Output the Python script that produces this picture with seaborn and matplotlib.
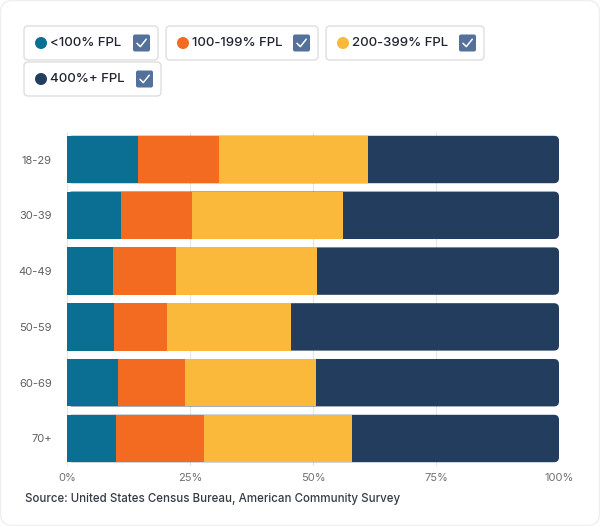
import matplotlib
matplotlib.use("Agg")
import matplotlib.pyplot as plt
from matplotlib.patches import FancyBboxPatch, Circle
import numpy as np
import pandas as pd
import seaborn as sns

# ---- data ----
age_groups = ["18-29", "30-39", "40-49", "50-59", "60-69", "70+"]
series_names = ["<100% FPL", "100-199% FPL", "200-399% FPL", "400%+ FPL"]
below_100 = [14.5, 10.9, 9.3, 9.5, 10.4, 10.0]
fpl_100_199 = [16.4, 14.6, 12.9, 10.9, 13.5, 17.8]
fpl_200_399 = [30.3, 30.6, 28.7, 25.2, 26.8, 30.2]
fpl_400_plus = [38.8, 43.9, 49.1, 54.4, 49.3, 42.0]
x_ticks = [0, 25, 50, 75, 100]
x_tick_labels = ["0%", "25%", "50%", "75%", "100%"]
source_text = "Source: United States Census Bureau, American Community Survey"

colors = ["#0A6F93", "#F26B21", "#FBB93B", "#233D5F"]

series = [below_100, fpl_100_199, fpl_200_399, fpl_400_plus]
cum = np.cumsum(np.array(series), axis=0)  # cumulative totals

sns.set_theme(style="white")
plt.rcParams["font.family"] = ["Inter", "DejaVu Sans"]

W, H = 600, 526
fig = plt.figure(figsize=(W / 100, H / 100), dpi=100)
fig.patch.set_facecolor("white")

# figure-pixel overlay for card, legend, source
ov = fig.add_axes([0, 0, 1, 1], zorder=0)
ov.set_xlim(0, W)
ov.set_ylim(H, 0)
ov.axis("off")

# card outline
ov.add_patch(FancyBboxPatch((0.5, 0.5), W - 1, H - 1,
                            boxstyle="round,pad=0,rounding_size=12",
                            fc="white", ec="#efefef", lw=1.0))

# ---- chart axes ----
ax_left, ax_right = 67, 559
ax_top, ax_bottom = 131.6, 466.4
ax = fig.add_axes([ax_left / W, 1 - ax_bottom / H,
                   (ax_right - ax_left) / W, (ax_bottom - ax_top) / H], zorder=2)
ax.patch.set_alpha(0)

df = pd.DataFrame({"age": age_groups})
n_before = 0
bar_groups = []
# draw from the largest cumulative to the smallest so each segment is visible
for i in range(len(series) - 1, -1, -1):
    df["val"] = cum[i]
    sns.barplot(data=df, y="age", x="val", orient="h", color=colors[i],
                width=0.85, saturation=1, ax=ax, order=age_groups, zorder=3,
                edgecolor="none", linewidth=0)
    new = ax.patches[n_before:]
    bar_groups.append(new)
    n_before = len(ax.patches)

ax.set_xlim(0, 100)
ax.set_ylim(len(age_groups) - 0.5, -0.5)

# round the right end of the full-width (last) segment
fig.canvas.draw()
tr = ax.transData
p0 = tr.transform((0, 0))
p1 = tr.transform((1, 1))
x_per_px = 1 / abs(p1[0] - p0[0])
y_per_px = 1 / abs(p1[1] - p0[1])
r_px = 5
for rect in bar_groups[0]:
    x, y = rect.get_x(), rect.get_y()
    w, h = rect.get_width(), rect.get_height()
    rect.set_visible(False)
    fb = FancyBboxPatch((x, y), w, h,
                        boxstyle=f"round,pad=0,rounding_size={r_px * x_per_px}",
                        mutation_aspect=y_per_px / x_per_px,
                        fc=rect.get_facecolor(), ec="none", lw=0, zorder=2.5)
    ax.add_patch(fb)

ax.set_xticks(x_ticks)
ax.set_xticklabels(x_tick_labels)
ax.xaxis.grid(True, color="#e6e6e6", lw=0.8, zorder=0)
ax.yaxis.grid(False)
ax.set_axisbelow(True)
ax.set_xlabel("")
ax.set_ylabel("")
for s in ax.spines.values():
    s.set_visible(False)
ax.tick_params(axis="x", length=0, pad=5, labelsize=8, labelcolor="#707070")
ax.tick_params(axis="y", length=0, pad=11, labelsize=8, labelcolor="#606060")

# ---- legend (checkbox-style chips) ----
chips = [
    (24, 26, 134, 34),
    (166, 26, 152, 34),
    (326, 26, 158, 34),
    (24, 62, 137, 34),
]
for (bx, by, bw, bh), name, col in zip(chips, series_names, colors):
    ov.add_patch(FancyBboxPatch((bx, by), bw, bh,
                                boxstyle="round,pad=0,rounding_size=4",
                                fc="white", ec="#dedede", lw=1.0))
    cy = by + bh / 2
    ov.add_patch(Circle((bx + 17, cy), 6, fc=col, ec="none"))
    ov.text(bx + 25.5, cy + 0.5, name, fontsize=9.5, color="#1f2430",
            va="center", ha="left", fontweight="medium")
    cbx = bx + bw - 25
    ov.add_patch(FancyBboxPatch((cbx, cy - 8.5), 17, 17,
                                boxstyle="round,pad=0,rounding_size=2",
                                fc="#53719A", ec="none"))
    ov.plot([cbx + 4, cbx + 7.3, cbx + 13.3], [cy + 0.3, cy + 3.6, cy - 3.8],
            color="white", lw=1.1, solid_capstyle="round")

# ---- source ----
ov.text(25, 499, source_text, fontsize=8.3, color="#343a46", va="center",
        ha="left", fontweight="medium")

fig.savefig("out.png", dpi=100, facecolor="white")
